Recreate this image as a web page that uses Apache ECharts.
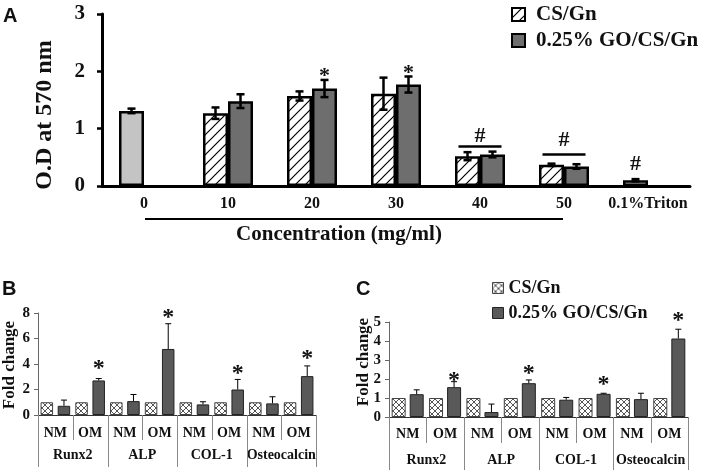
<!DOCTYPE html>
<html>
<head>
<meta charset="utf-8">
<script src="https://cdn.jsdelivr.net/npm/echarts@6/dist/echarts.min.js"></script>
<style>
  html, body { margin: 0; padding: 0; background: #fff; }
  #main { width: 709px; height: 470px; }
</style>
</head>
<body>
<div id="main"></div>
<script>
// ---- panel A: cell viability ----
var concCats = ['0', '10', '20', '30', '40', '50', '0.1%Triton'];
var controlMean = [1.31, null, null, null, null, null, 0.10];
var csgnMean = [null, 1.27, 1.57, 1.61, 0.52, 0.37, null];
var csgnErr = [0.04, 0.10, 0.08, 0.28, 0.07, 0.02, 0.02];
var goMean = [null, 1.48, 1.70, 1.77, 0.55, 0.34, null];
var goErr = [null, 0.12, 0.15, 0.14, 0.05, 0.04, null];
var aStars = [[2, 2.0], [3, 2.05]];
var aHashes = [[4, 0.86], [5, 0.80]];
var aBrackets = [[4, 0.69], [5, 0.55]];
var aTritonHash = [[6, 0.38]];

// ---- panels B and C: gene expression ----
var geneCats = ['Runx2', 'ALP', 'COL-1', 'Osteocalcin'];
var mediumCats = ['NM', 'OM', 'NM', 'OM', 'NM', 'OM', 'NM', 'OM'];
var bCsgn = [1, 1, 1, 1, 1, 1, 1, 1];
var bGo = [0.72, 2.71, 1.09, 5.18, 0.83, 2.0, 0.91, 3.05];
var bGoErr = [0.45, 0.15, 0.52, 1.98, 0.21, 0.79, 0.52, 0.80];
var bStars = [[1, 4.06], [3, 8.05], [5, 3.67], [7, 4.84]];
var cCsgn = [1, 1, 1, 1, 1, 1, 1, 1];
var cGo = [1.2, 1.57, 0.26, 1.78, 0.91, 1.22, 0.94, 4.13];
var cGoErr = [0.23, 0.29, 0.42, 0.17, 0.12, 0.03, 0.31, 0.49];
var cStars = [[1, 2.2], [3, 2.57], [5, 1.95], [7, 5.36]];

var SERIF = 'Liberation Serif';
var INK = '#111';

function hatchTile(size, color, lw, cross) {
  var c = document.createElement('canvas');
  c.width = c.height = size;
  var g = c.getContext('2d');
  g.fillStyle = '#fff';
  g.fillRect(0, 0, size, size);
  g.strokeStyle = color;
  g.lineWidth = lw;
  g.beginPath();
  g.moveTo(0, size); g.lineTo(size, 0);
  g.moveTo(-size / 2, size / 2); g.lineTo(size / 2, -size / 2);
  g.moveTo(size / 2, size * 1.5); g.lineTo(size * 1.5, size / 2);
  if (cross) {
    g.moveTo(0, 0); g.lineTo(size, size);
    g.moveTo(-size / 2, size / 2); g.lineTo(size / 2, size * 1.5);
    g.moveTo(size / 2, -size / 2); g.lineTo(size * 1.5, size / 2);
  }
  g.stroke();
  return c;
}
var hatchA = { image: hatchTile(10, '#000', 1.2, false), repeat: 'repeat' };
var crossBC = { image: hatchTile(6, '#555', 1, true), repeat: 'repeat' };

function errorBars(gi, mean, err, offset, capHalf, lw, upOnly) {
  var data = [];
  mean.forEach(function (m, i) {
    if (m != null && err[i]) data.push([i, m, err[i]]);
  });
  return {
    type: 'custom', xAxisIndex: gi.x, yAxisIndex: gi.y, silent: true, z: 5,
    data: data, encode: { x: 0, y: 1 },
    renderItem: function (params, api) {
      var c = api.value(0), m = api.value(1), e = api.value(2);
      var top = api.coord([c, m + e]);
      var bot = api.coord([c, upOnly ? m : m - e]);
      var x = top[0] + offset;
      var st = { stroke: '#000', lineWidth: lw };
      var ch = [
        { type: 'line', shape: { x1: x, y1: top[1], x2: x, y2: bot[1] }, style: st },
        { type: 'line', shape: { x1: x - capHalf, y1: top[1], x2: x + capHalf, y2: top[1] }, style: st }
      ];
      if (!upOnly) ch.push({ type: 'line', shape: { x1: x - capHalf, y1: bot[1], x2: x + capHalf, y2: bot[1] }, style: st });
      return { type: 'group', children: ch };
    }
  };
}

// text marks: [cat, value, slot, text, bracketHalfWidth]
function textMarks(gi, list, slotOffset, fontSize) {
  return {
    type: 'custom', xAxisIndex: gi.x, yAxisIndex: gi.y, silent: true, z: 6,
    data: list.map(function (d) { return [d[0], d[1]]; }),
    encode: { x: 0, y: 1 },
    renderItem: function (params, api) {
      var d = list[params.dataIndex];
      var p = api.coord([api.value(0), api.value(1)]);
      var x = p[0] + d[2] * slotOffset;
      if (d[4]) {
        return { type: 'line', shape: { x1: x - d[4], y1: p[1], x2: x + d[4], y2: p[1] },
          style: { stroke: '#000', lineWidth: 2.5 } };
      }
      var dy = d[3] === '*' ? fontSize * 0.22 : 0;
      return { type: 'text', x: x, y: p[1] + dy, style: { text: d[3], align: 'center', verticalAlign: 'middle',
        fontFamily: SERIF, fontWeight: 'bold', fontSize: fontSize, fill: INK } };
    }
  };
}

// vertical separators of the NM/OM and gene table below the axis
function separators(gi, n, shortLen, longLen) {
  var data = [];
  for (var i = 0; i <= n; i++) data.push([Math.min(i, n - 1), 0, i]);
  return {
    type: 'custom', xAxisIndex: gi.x, yAxisIndex: gi.y, silent: true, z: 4,
    data: data, encode: { x: 0, y: 1 },
    renderItem: function (params, api) {
      var idx = api.value(2);
      var p = api.coord([api.value(0), 0]);
      var w = api.size([1, 0])[0];
      var x = Math.round(idx < n ? p[0] - w / 2 : p[0] + w / 2) + 0.5;
      var len = idx % 2 === 0 ? longLen : shortLen;
      return { type: 'line', shape: { x1: x, y1: p[1], x2: x, y2: p[1] + len },
        style: { stroke: '#888', lineWidth: 1 } };
    }
  };
}

var aMarks = []
  .concat(aStars.map(function (d) { return [d[0], d[1], 1, '*']; }))
  .concat(aHashes.map(function (d) { return [d[0], d[1], 0, '#']; }))
  .concat(aTritonHash.map(function (d) { return [d[0], d[1], -1, '#']; }))
  .concat(aBrackets.map(function (d) { return [d[0], d[1], 0, '', 21.5]; }));
var bMarks = bStars.map(function (d) { return [d[0], d[1], 1, '*']; });
var cMarks = cStars.map(function (d) { return [d[0], d[1], 1, '*']; });

var seriesA0 = concCats.map(function (c, i) {
  if (controlMean[i] != null) return { value: controlMean[i], itemStyle: { color: '#c4c4c4' } };
  return csgnMean[i];
});
var meanA0 = concCats.map(function (c, i) { return controlMean[i] != null ? controlMean[i] : csgnMean[i]; });

var labelFont = { fontFamily: SERIF, fontWeight: 'bold', color: INK };
function lf(size, extra) { return Object.assign({ fontSize: size }, labelFont, extra || {}); }

function geneAxes(gridIndex, m1, m2) {
  return [
    { type: 'category', gridIndex: gridIndex, data: mediumCats,
      axisLine: { lineStyle: { color: '#333', width: 1 } },
      axisTick: { show: false },
      axisLabel: lf(14, { margin: m1, interval: 0 }) },
    { type: 'category', gridIndex: gridIndex, data: geneCats, position: 'bottom',
      axisLine: { show: false },
      axisTick: { show: false },
      axisLabel: lf(14, { margin: m2, interval: 0 }) }
  ];
}

function geneYAxis(gridIndex, max, interval, margin) {
  return { type: 'value', gridIndex: gridIndex, min: 0, max: max, interval: interval,
    axisLine: { show: true, lineStyle: { color: '#666', width: 1 } },
    axisTick: { show: true, length: 4, lineStyle: { color: '#666' } },
    splitLine: { show: false },
    axisLabel: lf(15, { margin: margin }) };
}

var chart = echarts.init(document.getElementById('main'));
chart.setOption({
  animation: false,
  backgroundColor: '#fff',
  grid: [
    { left: 102, top: 14, width: 588, height: 172 },
    { left: 38, top: 313, width: 278, height: 102 },
    { left: 389, top: 322, width: 299, height: 95 }
  ],
  legend: [
    { orient: 'vertical', left: 511, top: 4, padding: 0, itemWidth: 13, itemHeight: 13, itemGap: 5,
      icon: 'rect', selectedMode: false,
      textStyle: lf(21, { lineHeight: 20, padding: [0, 0, 0, 6] }),
      data: [
        { name: 'CS/Gn', itemStyle: { color: hatchA, borderColor: '#000', borderWidth: 2 } },
        { name: '0.25% GO/CS/Gn', itemStyle: { color: '#6e6e6e', borderColor: '#000', borderWidth: 2 } }
      ] },
    { orient: 'vertical', left: 492, top: 279, padding: 0, itemWidth: 11, itemHeight: 11, itemGap: 7,
      icon: 'rect', selectedMode: false,
      textStyle: lf(18, { lineHeight: 18 }),
      data: [
        { name: 'CS/Gn', itemStyle: { color: crossBC, borderColor: '#444', borderWidth: 1 } },
        { name: '0.25% GO/CS/Gn', itemStyle: { color: '#595959', borderColor: '#222', borderWidth: 1 } }
      ] }
  ],
  xAxis: [
    { type: 'category', gridIndex: 0, data: concCats,
      axisLine: { lineStyle: { color: '#000', width: 3 } },
      axisTick: { interval: 0, length: 5, lineStyle: { color: '#000', width: 2.5 } },
      axisLabel: lf(16, { margin: 10, interval: 0 }) }
  ].concat(geneAxes(1, 11, 33)).concat(geneAxes(2, 10, 36)),
  yAxis: [
    { type: 'value', gridIndex: 0, min: 0, max: 3, interval: 1,
      axisLine: { show: true, lineStyle: { color: '#000', width: 3 } },
      axisTick: { show: true, length: 5, lineStyle: { color: '#000', width: 2.5 } },
      splitLine: { show: false },
      axisLabel: lf(21, { margin: 17 }) },
    geneYAxis(1, 8, 2, 8),
    geneYAxis(2, 5, 1, 8)
  ],
  graphic: [
    { type: 'text', left: 3, top: 6, style: { text: 'A', fontFamily: 'Liberation Sans', fontWeight: 'bold', fontSize: 20, fill: INK } },
    { type: 'text', left: 2, top: 279, style: { text: 'B', fontFamily: 'Liberation Sans', fontWeight: 'bold', fontSize: 20, fill: INK } },
    { type: 'text', left: 356, top: 279, style: { text: 'C', fontFamily: 'Liberation Sans', fontWeight: 'bold', fontSize: 20, fill: INK } },
    { type: 'text', x: 45, y: 115, rotation: Math.PI / 2,
      style: { text: 'O.D at 570 nm', align: 'center', verticalAlign: 'middle', fontFamily: SERIF, fontWeight: 'bold', fontSize: 24, fill: INK } },
    { type: 'text', x: 10, y: 365, rotation: Math.PI / 2,
      style: { text: 'Fold change', align: 'center', verticalAlign: 'middle', fontFamily: SERIF, fontWeight: 'bold', fontSize: 17, fill: INK } },
    { type: 'text', x: 364, y: 362, rotation: Math.PI / 2,
      style: { text: 'Fold change', align: 'center', verticalAlign: 'middle', fontFamily: SERIF, fontWeight: 'bold', fontSize: 17, fill: INK } },
    { type: 'line', shape: { x1: 145, y1: 219, x2: 563, y2: 219 }, style: { stroke: '#000', lineWidth: 2 } },
    { type: 'text', x: 339, y: 235,
      style: { text: 'Concentration (mg/ml)', align: 'center', verticalAlign: 'middle', fontFamily: SERIF, fontWeight: 'bold', fontSize: 21, fill: INK } }
  ],
  series: [
    { name: 'CS/Gn', type: 'bar', xAxisIndex: 0, yAxisIndex: 0, data: seriesA0, barWidth: 25, barGap: '0%',
      itemStyle: { color: hatchA, borderColor: '#000', borderWidth: 2.5 } },
    { name: '0.25% GO/CS/Gn', type: 'bar', xAxisIndex: 0, yAxisIndex: 0, data: goMean, barWidth: 25, barGap: '0%',
      itemStyle: { color: '#6e6e6e', borderColor: '#000', borderWidth: 2.5 } },
    errorBars({ x: 0, y: 0 }, meanA0, csgnErr, -12.5, 4, 2.5, false),
    errorBars({ x: 0, y: 0 }, goMean, goErr, 12.5, 4, 2.5, false),
    textMarks({ x: 0, y: 0 }, aMarks, 12.5, 22),

    { name: 'CS/Gn', type: 'bar', xAxisIndex: 1, yAxisIndex: 1, data: bCsgn, barWidth: 12.5, barGap: '37%',
      itemStyle: { color: crossBC, borderColor: '#444', borderWidth: 1 } },
    { name: '0.25% GO/CS/Gn', type: 'bar', xAxisIndex: 1, yAxisIndex: 1, data: bGo, barWidth: 12.5, barGap: '37%',
      itemStyle: { color: '#595959', borderColor: '#222', borderWidth: 1 } },
    errorBars({ x: 1, y: 1 }, bGo, bGoErr, 8.6, 3, 1, true),
    textMarks({ x: 1, y: 1 }, bMarks, 8.6, 24),
    separators({ x: 1, y: 1 }, mediumCats.length, 25, 52),

    { name: 'CS/Gn', type: 'bar', xAxisIndex: 3, yAxisIndex: 2, data: cCsgn, barWidth: 14, barGap: '29%',
      itemStyle: { color: crossBC, borderColor: '#444', borderWidth: 1 } },
    { name: '0.25% GO/CS/Gn', type: 'bar', xAxisIndex: 3, yAxisIndex: 2, data: cGo, barWidth: 14, barGap: '29%',
      itemStyle: { color: '#595959', borderColor: '#222', borderWidth: 1 } },
    errorBars({ x: 3, y: 2 }, cGo, cGoErr, 9, 3, 1, true),
    textMarks({ x: 3, y: 2 }, cMarks, 9, 24),
    separators({ x: 3, y: 2 }, mediumCats.length, 26, 53)
  ]
});
</script>
</body>
</html>
